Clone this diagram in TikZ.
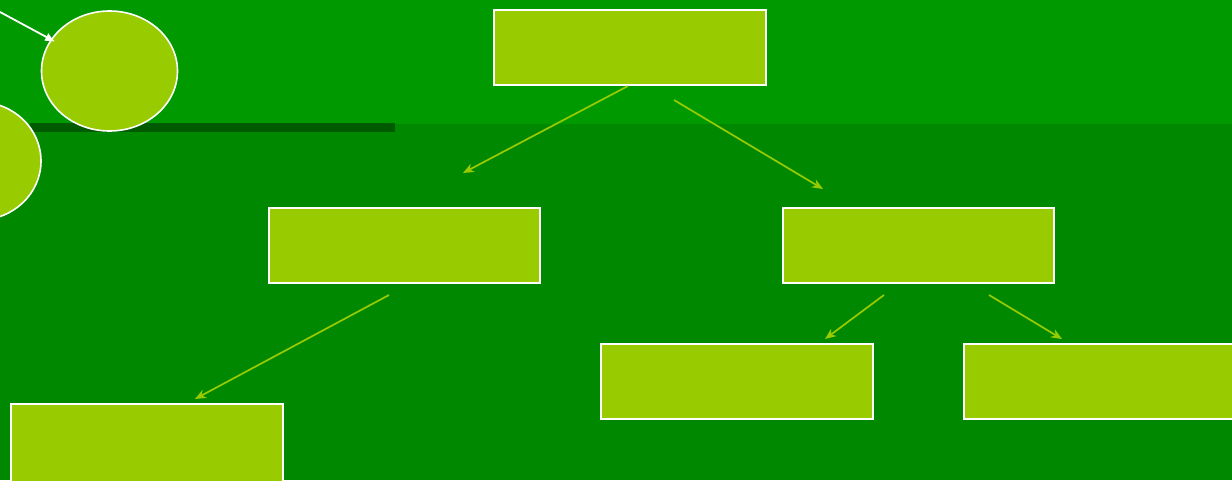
\documentclass[tikz,border=0pt]{standalone}
\usetikzlibrary{arrows.meta,shapes.geometric}
\definecolor{bgtop}{HTML}{009900}
\definecolor{bgbot}{HTML}{008800}
\definecolor{barc}{HTML}{005A00}
\definecolor{lime}{HTML}{99CC00}
\tikzset{
  box/.style={draw=white, line width=1.6pt, fill=lime, rectangle, anchor=center, inner sep=0pt},
  oval/.style={draw=white, line width=1.6pt, fill=lime, ellipse},
  conn/.style={draw=lime, line width=1.7pt, -{Stealth[length=11pt,width=9pt,inset=3.5pt]}},
  wconn/.style={draw=white, line width=1.8pt, shorten >=-5pt, -{Latex[length=10pt,width=9pt]}}
}
\begin{document}
\begin{tikzpicture}[x=1pt,y=-1pt]
\useasboundingbox (0,0) rectangle (1232,480);
\fill[bgbot] (0,0) rectangle (1232,480);
\fill[bgtop] (0,0) rectangle (1232,124);
\fill[barc] (30,123) rectangle (395,132);
\node[oval, minimum width=136pt, minimum height=120pt] (e1) at (109.5,71) {};
\node[oval, minimum width=124pt, minimum height=118pt] (e2) at (-21,161) {};
\coordinate (ws) at (0,12);
\draw[wconn] (ws) -- (e1);
\node[box, minimum width=272pt, minimum height=75pt] (top) at (630,47.5) {};
\node[box, minimum width=271pt, minimum height=75pt] (l) at (404.5,245.5) {};
\node[box, minimum width=271pt, minimum height=75pt] (r) at (918.5,245.5) {};
\node[box, minimum width=272pt, minimum height=75pt] (rl) at (737,381.5) {};
\node[box, minimum width=280pt, minimum height=75pt] (rr) at (1104,381.5) {};
\node[box, minimum width=272pt, minimum height=80pt] (ll) at (147,444) {};
\coordinate (a1s) at (628,86); \coordinate (a1e) at (463,173);
\coordinate (a2s) at (674,100); \coordinate (a2e) at (823,189);
\coordinate (a3s) at (389,295); \coordinate (a3e) at (195,399);
\coordinate (a4s) at (884,295); \coordinate (a4e) at (825,339);
\coordinate (a5s) at (989,295); \coordinate (a5e) at (1062,339);
\draw[conn] (a1s) -- (a1e);
\draw[conn] (a2s) -- (a2e);
\draw[conn] (a3s) -- (a3e);
\draw[conn] (a4s) -- (a4e);
\draw[conn] (a5s) -- (a5e);
\end{tikzpicture}
\end{document}
